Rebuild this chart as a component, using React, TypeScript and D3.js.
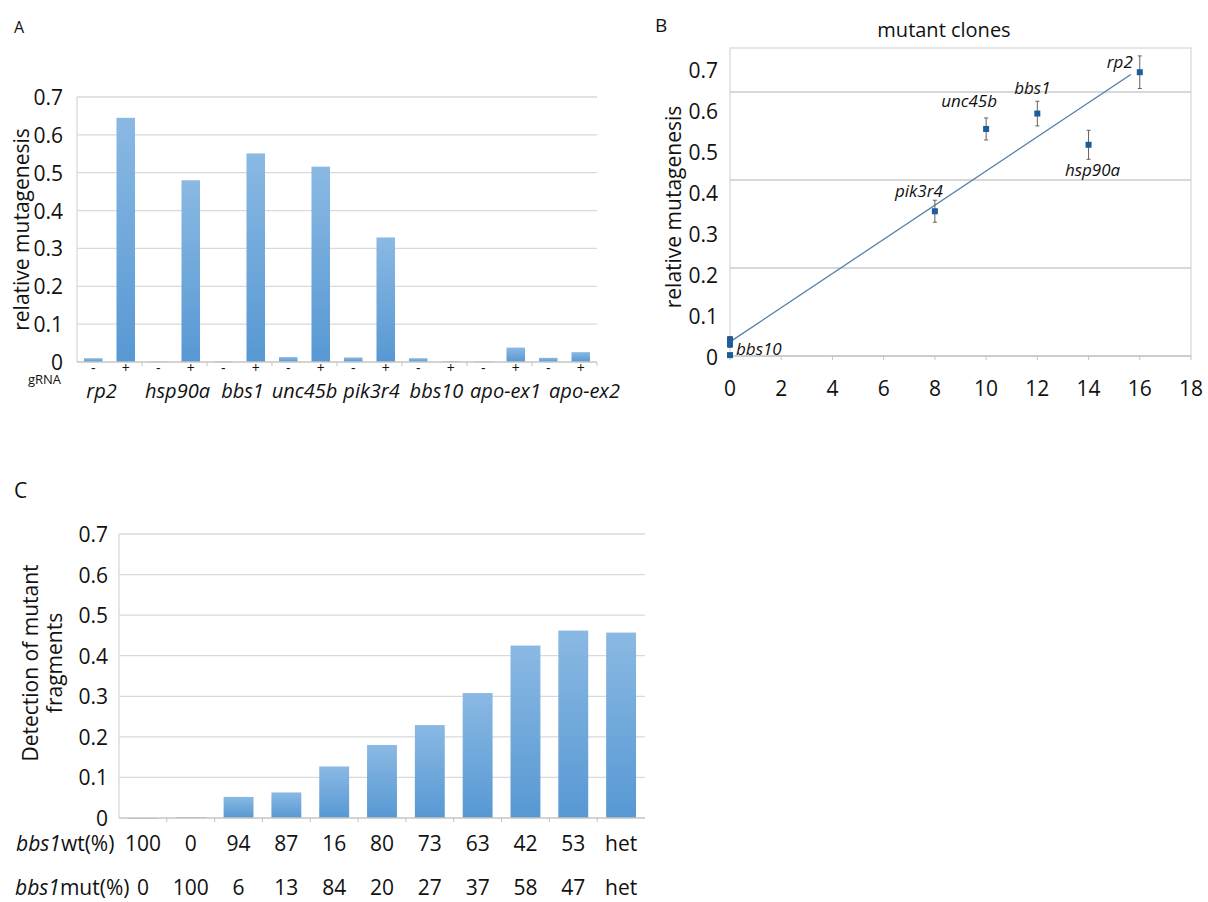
import * as d3 from 'd3';

// panel A: relative mutagenesis per gRNA, -/+
const genes = ['rp2', 'hsp90a', 'bbs1', 'unc45b', 'pik3r4', 'bbs10', 'apo-ex1', 'apo-ex2'];
const minusGrna = [0.010, 0.001, 0.001, 0.013, 0.012, 0.010, 0.001, 0.011];
const plusGrna = [0.645, 0.480, 0.551, 0.516, 0.329, 0.002, 0.038, 0.026];

// panel B: mutant clones vs mutagenesis
const cloneGenes = ['bbs10', 'apo-ex1', 'apo-ex2', 'pik3r4', 'unc45b', 'bbs1', 'hsp90a', 'rp2'];
const cloneCounts = [0, 0, 0, 8, 10, 12, 14, 16];
const cloneMutagenesis = [0.002, 0.038, 0.026, 0.329, 0.516, 0.551, 0.480, 0.645];
const cloneErrors = [0, 0.006, 0.006, 0.025, 0.025, 0.028, 0.033, 0.037];
const labelledClones = ['bbs10', 'pik3r4', 'unc45b', 'bbs1', 'hsp90a', 'rp2'];

// panel C: detection of mutant fragments
const wtPercent = ['100', '0', '94', '87', '16', '80', '73', '63', '42', '53', 'het'];
const mutPercent = ['0', '100', '6', '13', '84', '20', '27', '37', '58', '47', 'het'];
const detection = [0, 0.002, 0.052, 0.063, 0.127, 0.180, 0.229, 0.308, 0.425, 0.462, 0.457];

const FONT = "'Open Sans', 'Noto Sans', sans-serif";
const GRID = '#d9d9d9';
const AXIS = '#c4c4c4';
const fmt = (d: number) => (d === 0 ? '0' : d.toFixed(1));

// gene names in A are nudged off the pair centre a little
const geneLabelShift = [-8, 3, 3, 0, 2, 2, 6, 20];

// label offsets for panel B (dx, dy, anchor)
const labelPlace: Record<string, [number, number, string]> = {
  bbs10: [6, 0, 'start'],
  pik3r4: [-16, -14, 'middle'],
  unc45b: [-17, -22, 'middle'],
  bbs1: [-5, -20, 'middle'],
  hsp90a: [4, 31, 'middle'],
  rp2: [-7, -4, 'end'],
};

function PanelA() {
  const left = 77, right = 597, top = 97, bottom = 362;
  const keys = genes.flatMap(g => [g + '-', g + '+']);
  const values = genes.flatMap((g, i) => [minusGrna[i], plusGrna[i]]);
  const x = d3.scaleBand<string>().domain(keys).range([left, right]).paddingInner(0.43).paddingOuter(0.215);
  const y = d3.scaleLinear().domain([0, 0.7]).range([bottom, top]);
  const bw = x.bandwidth();
  const pairCentre = (g: string) => ((x(g + '-') as number) + (x(g + '+') as number) + bw) / 2;
  return (
    <g>
      <text x={14} y={33} fontSize={16}>A</text>
      {y.ticks(7).map(t => (
        <g key={t}>
          {t > 0 && <line x1={left} x2={right} y1={y(t)} y2={y(t)} stroke={GRID} strokeWidth={1.3} />}
          <text x={63} y={y(t)} fontSize={21} textAnchor="end" dominantBaseline="central">{fmt(t)}</text>
        </g>
      ))}
      <line x1={left} x2={left} y1={top} y2={bottom} stroke={GRID} strokeWidth={1.3} />
      {keys.map((k, i) => (
        <rect key={k} x={x(k)} y={y(values[i])} width={bw} height={Math.max(0.6, bottom - y(values[i]))} fill="url(#barFill)" />
      ))}
      <line x1={left} x2={right} y1={bottom} y2={bottom} stroke={AXIS} strokeWidth={1.3} />
      {genes.map(g => {
        const bx = (x(g + '+') as number) + bw + (x.step() - bw) / 2;
        return <line key={g} x1={bx} x2={bx} y1={bottom} y2={bottom + 4} stroke={AXIS} />;
      })}
      <text transform={`translate(21,${(top + bottom) / 2}) rotate(-90)`} fontSize={21} textAnchor="middle" dominantBaseline="central">relative mutagenesis</text>
      <text x={28} y={384} fontSize={13}>gRNA</text>
      {keys.map(k => (
        <text key={k} x={(x(k) as number) + bw / 2} y={373} fontSize={14} textAnchor="middle">{k.endsWith('+') ? '+' : '-'}</text>
      ))}
      {genes.map((g, i) => (
        <text key={g} x={pairCentre(g) + geneLabelShift[i]} y={398} fontSize={20} fontStyle="italic" textAnchor="middle">{g}</text>
      ))}
    </g>
  );
}

function PanelB() {
  const left = 730, right = 1191, top = 48, bottom = 356;
  const x = d3.scaleLinear().domain([0, 18]).range([left, right]);
  const y = d3.scaleLinear().domain([0, 0.7]).range([bottom, top]);
  // tick labels sit on their own (denser) spacing in the figure
  const yLabel = d3.scaleLinear().domain([0, 0.7]).range([357, 70]);
  const n = cloneCounts.length;
  const mx = d3.mean(cloneCounts) as number;
  const my = d3.mean(cloneMutagenesis) as number;
  const slope = d3.sum(cloneCounts, (c, i) => (c - mx) * (cloneMutagenesis[i] - my)) /
    d3.sum(cloneCounts, c => (c - mx) ** 2);
  const intercept = my - slope * mx;
  const trendEnd = 15.65;
  const line = d3.line<number>().x(d => x(d)).y(d => y(intercept + slope * d));
  return (
    <g>
      <text x={655} y={32} fontSize={19}>B</text>
      <text x={944} y={37} fontSize={20} textAnchor="middle">mutant clones</text>
      <rect x={left} y={top} width={right - left} height={bottom - top} fill="none" stroke={GRID} strokeWidth={1.3} />
      {[0.2, 0.4, 0.6].map(t => (
        <line key={t} x1={left} x2={right} y1={y(t)} y2={y(t)} stroke="#cbcbcb" strokeWidth={1.5} />
      ))}
      <line x1={left} x2={right} y1={bottom} y2={bottom} stroke={AXIS} strokeWidth={1.3} />
      {x.ticks(9).map(t => (
        <g key={t}>
          <line x1={x(t)} x2={x(t)} y1={bottom} y2={bottom + 4} stroke={AXIS} />
          <text x={x(t)} y={396} fontSize={21} textAnchor="middle">{t}</text>
        </g>
      ))}
      {yLabel.ticks(7).map(t => (
        <text key={t} x={718} y={yLabel(t)} fontSize={21} textAnchor="end" dominantBaseline="central">{fmt(t)}</text>
      ))}
      <text transform={`translate(673,207) rotate(-90)`} fontSize={21} textAnchor="middle" dominantBaseline="central">relative mutagenesis</text>
      <path d={line([0, trendEnd]) as string} fill="none" stroke="#4f7fae" strokeWidth={1.3} />
      {d3.range(n).map(i => {
        const cx = x(cloneCounts[i]);
        const cy = y(cloneMutagenesis[i]);
        const e = cloneErrors[i];
        return (
          <g key={cloneGenes[i]}>
            {e > 0 && (
              <g stroke="#6b5e55" strokeWidth={1}>
                <line x1={cx} x2={cx} y1={y(cloneMutagenesis[i] + e)} y2={y(cloneMutagenesis[i] - e)} />
                <line x1={cx - 2} x2={cx + 2} y1={y(cloneMutagenesis[i] + e)} y2={y(cloneMutagenesis[i] + e)} />
                <line x1={cx - 2} x2={cx + 2} y1={y(cloneMutagenesis[i] - e)} y2={y(cloneMutagenesis[i] - e)} />
              </g>
            )}
            <rect x={cx - 3} y={cy - 3} width={6} height={6} fill="#1c5d9a" />
          </g>
        );
      })}
      {labelledClones.map(g => {
        const i = cloneGenes.indexOf(g);
        const [dx, dy, anchor] = labelPlace[g];
        return (
          <text key={g} x={x(cloneCounts[i]) + dx} y={y(cloneMutagenesis[i]) + dy} fontSize={17} fontStyle="italic" textAnchor={anchor}>{g}</text>
        );
      })}
    </g>
  );
}

function PanelC() {
  const left = 119, right = 645, top = 534, bottom = 818;
  const idx = d3.range(detection.length).map(String);
  const x = d3.scaleBand<string>().domain(idx).range([left, right]).paddingInner(0.375).paddingOuter(0.1875);
  const y = d3.scaleLinear().domain([0, 0.7]).range([bottom, top]);
  const bw = x.bandwidth();
  const cx = (k: string) => (x(k) as number) + bw / 2;
  return (
    <g>
      <text x={14} y={498} fontSize={21}>C</text>
      {y.ticks(7).map(t => (
        <g key={t}>
          {t > 0 && <line x1={left} x2={right} y1={y(t)} y2={y(t)} stroke={GRID} strokeWidth={1.3} />}
          <text x={108} y={y(t)} fontSize={21} textAnchor="end" dominantBaseline="central">{fmt(t)}</text>
        </g>
      ))}
      <line x1={left} x2={left} y1={top} y2={bottom} stroke={GRID} strokeWidth={1.3} />
      {idx.map((k, i) => (
        <rect key={k} x={x(k)} y={y(detection[i])} width={bw} height={Math.max(0.6, bottom - y(detection[i]))} fill="url(#barFill)" />
      ))}
      <line x1={left} x2={right} y1={bottom} y2={bottom} stroke={AXIS} strokeWidth={1.3} />
      {idx.slice(1).map(k => {
        const bx = (x(k) as number) - (x.step() - bw) / 2;
        return <line key={k} x1={bx} x2={bx} y1={bottom} y2={bottom + 4} stroke={AXIS} />;
      })}
      <g transform={`translate(43,663) rotate(-90)`} fontSize={21} textAnchor="middle">
        <text y={-5}>Detection of mutant</text>
        <text y={19}>fragments</text>
      </g>
      <text x={16} y={851} fontSize={21}><tspan fontStyle="italic">bbs1</tspan>wt(%)</text>
      <text x={15} y={895} fontSize={21}><tspan fontStyle="italic">bbs1</tspan>mut(%)</text>
      {idx.map((k, i) => (
        <g key={k}>
          <text x={cx(k)} y={851} fontSize={21} textAnchor="middle">{wtPercent[i]}</text>
          <text x={cx(k)} y={895} fontSize={21} textAnchor="middle">{mutPercent[i]}</text>
        </g>
      ))}
    </g>
  );
}

export default function App() {
  return (
    <svg width={1208} height={902} fontFamily={FONT} fill="#111"
      style={{ position: 'absolute', left: 0, top: 0, background: '#fff' }}>
      <defs>
        <linearGradient id="barFill" x1="0" y1="0" x2="0" y2="1">
          <stop offset="0%" stopColor="#8ab9e3" />
          <stop offset="100%" stopColor="#5798d3" />
        </linearGradient>
      </defs>
      <PanelA />
      <PanelB />
      <PanelC />
    </svg>
  );
}
